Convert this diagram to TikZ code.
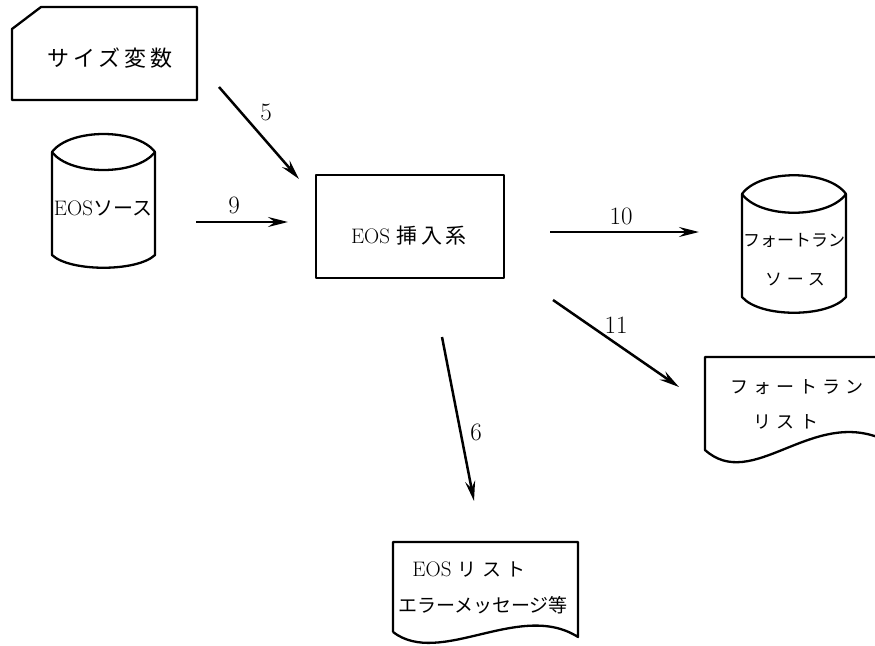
\documentclass[tikz,border=0pt]{standalone}
\usepackage{fontspec}
\usepackage{tikz}
\usetikzlibrary{arrows.meta, positioning}
\newfontfamily\jp{Noto Sans CJK JP}
\newfontfamily\jpwide{Noto Sans CJK JP}[LetterSpace=18]
\newfontfamily\jpwider{Noto Sans CJK JP}[LetterSpace=28]
\definecolor{ink}{RGB}{0,0,0}

\begin{document}
\begin{tikzpicture}[x=1pt, y=-1pt,
    forma/.style={ink, line width=2.3pt, line join=round},
    freccia/.style={ink, line width=2.5pt, -{Stealth[length=20pt, width=10pt, inset=7pt]}},
    numero/.style={inner sep=0pt, font=\fontsize{25}{28}\selectfont},
    testo/.style={inner sep=0pt, font=\fontsize{21}{25}\selectfont}]
    \useasboundingbox (0,0) rectangle (875,645);

    % Scheda con angolo tagliato
    \draw[forma] (12,29) -- (41,7) -- (197,7) -- (197,100) -- (12,100) -- cycle;
    \node[testo] (var) at (110,58) {\fontsize{22}{26}\jpwide サイズ変数};

    % Cilindro di sinistra
    \draw[forma] (52,152) -- (52,255) .. controls (70,272) and (137,272) .. (155,255) -- (155,152);
    \draw[forma] (52,152) .. controls (70,128) and (137,128) .. (155,152)
                          .. controls (137,176) and (70,176) .. cycle;
    \node[testo] (src) at (103,208) {EOS{\fontsize{20}{24}\jp ソース}};

    % Blocco centrale
    \node[forma, draw, minimum width=188pt, minimum height=103pt] (main) at (410,226.5) {};
    \node[testo] (maintxt) at (409,236) {EOS {\fontsize{21}{24}\jpwide 挿入系}};

    % Cilindro di destra
    \draw[forma] (742,194) -- (742,297) .. controls (760,318) and (828,318) .. (846,297) -- (846,194);
    \draw[forma] (742,194) .. controls (760,169) and (828,169) .. (846,194)
                           .. controls (828,219) and (760,219) .. cycle;
    \node[testo] (ftsrc) at (794,240) {\fontsize{17}{20}\jp フォートラン};
    \node[testo] (ftsrc2) at (795,280) {\fontsize{17}{20}\jpwider ソース};

    % Documenti
    \draw[forma] (880,357) -- (705,357) -- (705,450) .. controls (752,492) and (810,410) .. (880,438);
    \node[testo] (ftlst) at (797,387) {\fontsize{18}{21}\jpwider フォートラン};
    \node[testo] (ftlst2) at (786,422) {\fontsize{18}{21}\jpwider リスト};

    \draw[forma] (393,632) -- (393,542) -- (578,542) -- (578,637) .. controls (520,600) and (440,668) .. (393,632);
    \node[testo] (eoslst) at (469,570) {EOS {\fontsize{19}{22}\jpwider リスト}};
    \node[testo] (eoslst2) at (483,605) {\fontsize{19}{22}\jp エラーメッセージ等};

    % Frecce
    \coordinate (a5s) at (219,87);  \coordinate (a5e) at (299,179);
    \coordinate (a9s) at (196,222); \coordinate (a9e) at (288,222);
    \coordinate (a10s) at (550,232); \coordinate (a10e) at (699,232);
    \coordinate (a11s) at (553,300); \coordinate (a11e) at (679,387);
    \coordinate (a6s) at (442,337); \coordinate (a6e) at (474,501);
    \draw[freccia] (a5s) -- (a5e);
    \draw[freccia] (a9s) -- (a9e);
    \draw[freccia] (a10s) -- (a10e);
    \draw[freccia] (a11s) -- (a11e);
    \draw[freccia] (a6s) -- (a6e);

    \node[numero] (lab5) at (266,112) {5};
    \node[numero] (lab9) at (234,205) {9};
    \node[numero] (lab10) at (621,216) {10};
    \node[numero] (lab11) at (616,325) {11};
    \node[numero] (lab6) at (476,432) {6};
\end{tikzpicture}
\end{document}
